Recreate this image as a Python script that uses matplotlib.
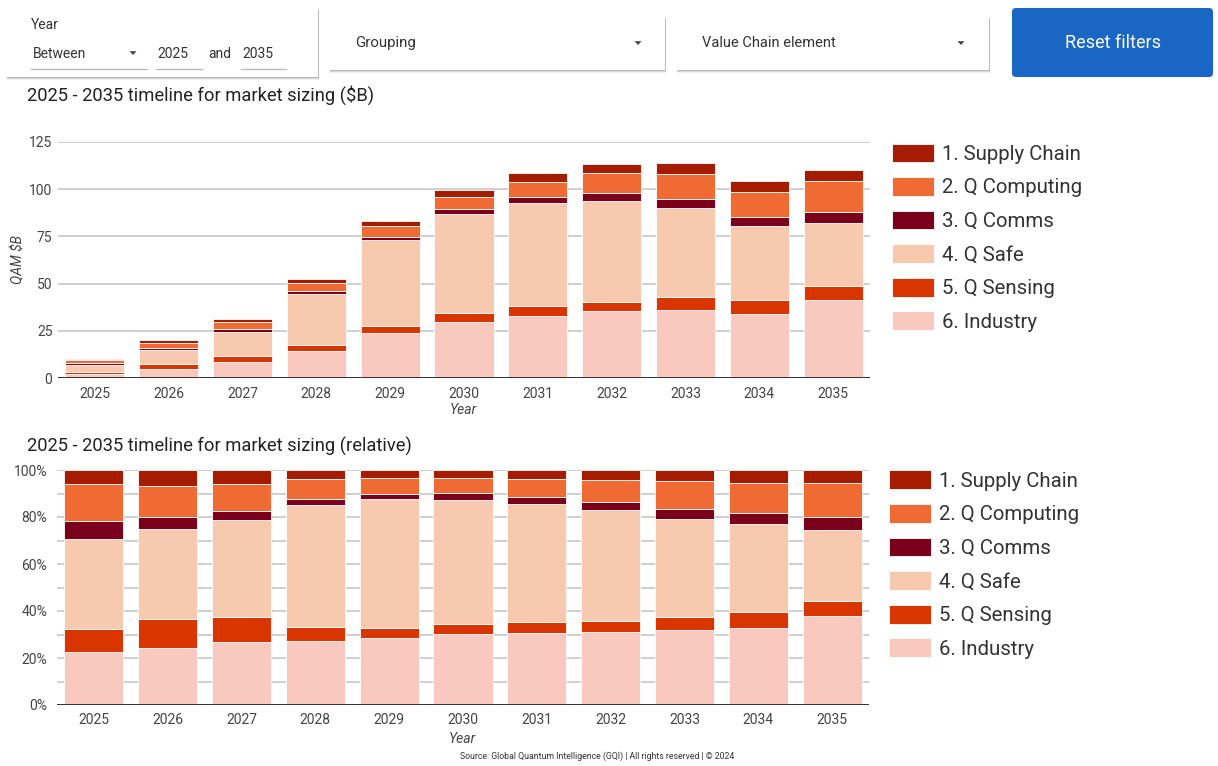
import numpy as np
import matplotlib.pyplot as plt
from matplotlib.patches import Rectangle, FancyBboxPatch, Polygon

plt.rcParams['font.family'] = ['Roboto', 'DejaVu Sans']

years = ['2025', '2026', '2027', '2028', '2029', '2030', '2031', '2032', '2033', '2034', '2035']

# market size per value chain element, $B
industry = [2.3, 4.9, 8.4, 14.4, 23.7, 30.0, 33.0, 35.3, 36.1, 34.0, 41.5]
q_sensing = [1.0, 2.5, 3.3, 3.0, 3.7, 4.3, 5.2, 5.2, 6.6, 7.4, 7.4]
q_safe = [3.9, 7.7, 13.0, 27.2, 45.6, 52.7, 54.2, 53.4, 47.3, 38.9, 32.9]
q_comms = [0.8, 1.1, 1.2, 1.5, 1.9, 2.7, 3.4, 4.1, 4.8, 4.9, 6.3]
q_computing = [1.6, 2.6, 3.6, 4.3, 5.6, 6.3, 8.1, 10.4, 13.3, 13.4, 16.1]
supply_chain = [0.6, 1.4, 1.8, 2.1, 2.8, 3.5, 4.3, 5.0, 5.4, 5.6, 5.9]

series_names = ['6. Industry', '5. Q Sensing', '4. Q Safe', '3. Q Comms', '2. Q Computing', '1. Supply Chain']
colors = ['#f9c8be', '#d93500', '#f7c9ae', '#7a001b', '#f06b33', '#a61c00']

W, H = 1218, 766
fig = plt.figure(figsize=(W / 100, H / 100), dpi=100)

# page layer in pixel coordinates for the filter bar and captions
ui = fig.add_axes([0, 0, 1, 1])
ui.set_xlim(0, W)
ui.set_ylim(H, 0)
ui.axis('off')


def card(x0, y0, x1, y1):
    for off, a in [(3, 0.06), (2, 0.10), (1, 0.14)]:
        ui.add_patch(Rectangle((x0 - 0.5, y0 + off - 0.5), x1 - x0 + 1, y1 - y0, facecolor='black', alpha=a, lw=0))
    ui.add_patch(Rectangle((x0, y0), x1 - x0, y1 - y0, facecolor='white', lw=0))


def arrow(cx, cy):
    ui.add_patch(Polygon([(cx - 3.5, cy - 1.8), (cx + 3.5, cy - 1.8), (cx, cy + 2)], closed=True, facecolor='#444444', lw=0))


txt = dict(color='#333333', fontsize=10, va='center')

card(7, 8, 318, 77)
ui.text(31, 25, 'Year', **txt)
ui.text(33, 54, 'Between', **txt)
arrow(133, 53)
ui.text(157, 54, '2025', **txt)
ui.text(208, 54, 'and', **txt)
ui.text(242, 54, '2035', **txt)
for a, b in [(31, 147), (156, 202), (241, 286)]:
    ui.plot([a, b], [69, 69], color='#bbbbbb', lw=1)

card(330, 17, 665, 70)
ui.text(355, 43, 'Grouping', color='#333333', fontsize=10.8, va='center')
arrow(638, 43)

card(677, 17, 989, 70)
ui.text(702, 43, 'Value Chain element', color='#333333', fontsize=10.5, va='center')
arrow(961, 43)

ui.add_patch(FancyBboxPatch((1012, 8), 201, 69, boxstyle='round,pad=0,rounding_size=4',
                            facecolor='#1966c4', lw=0))
ui.text(1113, 43, 'Reset filters', color='white', fontsize=13, ha='center', va='center')

ui.text(27, 95, '2025 - 2035 timeline for market sizing ($B)', color='#222222', fontsize=13.2, va='center')
ui.text(27, 446, '2025 - 2035 timeline for market sizing (relative)', color='#222222', fontsize=13.2, va='center')
ui.text(18, 260, 'QAM $B', rotation=90, style='italic', color='#444444', fontsize=10, ha='center', va='center')
ui.text(463, 410, 'Year', style='italic', color='#444444', fontsize=10, ha='center', va='center')
ui.text(462, 739, 'Year', style='italic', color='#444444', fontsize=10, ha='center', va='center')
ui.text(597, 756, 'Source: Global Quantum Intelligence (GQI) | All rights reserved | \u00a9 2024',
        color='#333333', fontsize=6.3, ha='center', va='center')


def px_axes(x0, y0, x1, y1):
    return fig.add_axes([x0 / W, 1 - y1 / H, (x1 - x0) / W, (y1 - y0) / H])


x = np.arange(len(years))
absolute = np.array([industry, q_sensing, q_safe, q_comms, q_computing, supply_chain])
relative = absolute / absolute.sum(axis=0)


def stacked(ax, data):
    bottom = np.zeros(len(years))
    for vals, name, col in zip(data, series_names, colors):
        ax.bar(x, vals, 0.8, bottom=bottom, color=col, edgecolor='white', linewidth=0.6, label=name, zorder=2)
        bottom += vals
    ax.set_xlim(-0.5, 10.5)
    ax.set_xticks(x)
    ax.set_xticklabels(years)
    for s in ax.spines.values():
        s.set_visible(False)
    ax.set_axisbelow(True)
    ax.axhline(0, color='#222222', lw=2, zorder=3)
    ax.tick_params(length=0, labelsize=10, labelcolor='#444444')
    ax.tick_params(axis='x', pad=6)
    handles, labels = ax.get_legend_handles_labels()
    return handles[::-1], labels[::-1]


legend_kw = dict(loc='upper left', frameon=False, fontsize=14.7, handlelength=2.06, handleheight=1.03,
                 handletextpad=0.4, labelspacing=0.65, borderpad=0, borderaxespad=0, labelcolor='#333333')

ax1 = px_axes(58, 141.7, 870, 378.3)
h, l = stacked(ax1, absolute)
ax1.set_ylim(0, 125)
ax1.set_yticks(np.arange(0, 126, 25))
ax1.grid(axis='y', color='#cccccc', lw=1.3, zorder=0)
ax1.tick_params(axis='y', pad=4)
fig.legend(h, l, bbox_to_anchor=(892 / W, 1 - 143.5 / H), **legend_kw)

ax2 = px_axes(57, 470, 869, 705)
h, l = stacked(ax2, relative)
ax2.set_ylim(0, 1)
ax2.set_yticks(np.arange(0, 1.01, 0.2))
ax2.set_yticklabels(['0%', '20%', '40%', '60%', '80%', '100%'])
ax2.set_yticks(np.arange(0.1, 1.0, 0.2), minor=True)
ax2.grid(axis='y', which='both', color='#cccccc', lw=1.3, zorder=0)
ax2.tick_params(axis='y', which='both', length=0, pad=7)
fig.legend(h, l, bbox_to_anchor=(889 / W, 1 - 470.5 / H), **legend_kw)

fig.savefig('out.png', dpi=100)
